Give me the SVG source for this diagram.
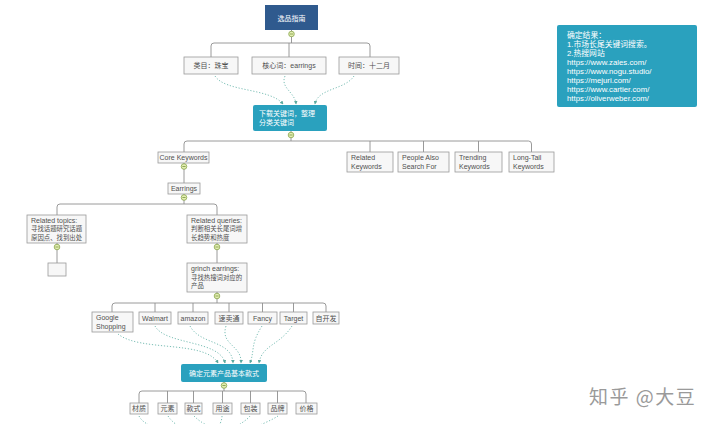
<svg xmlns="http://www.w3.org/2000/svg" xmlns:xlink="http://www.w3.org/1999/xlink" width="720" height="424" viewBox="0 0 720 424">
<style>
.bx{fill:#f7f7f7;stroke:#9a9a9a;stroke-width:0.8}
.t{font-family:"Liberation Sans","Noto Sans CJK SC",sans-serif;font-size:7px;fill:#505050}
.s{font-size:6.4px}
.tc{text-anchor:middle}
.w{fill:#ffffff}
.ib{font-size:7.8px}
.ln{fill:none;stroke:#8f8f8f;stroke-width:0.9}
.dt{fill:none;stroke:#6cb7ad;stroke-width:0.9;stroke-dasharray:1.2 1.8}
.dot circle{fill:#e4eeb2;stroke:#7d9c3c;stroke-width:0.7}
.dot path{stroke:#6a8a30;stroke-width:0.7}
</style>
<defs>
<g id="m" class="dot"><circle r="2.8"/><path d="M-1.6,0H1.6"/></g>
<marker id="ar" viewBox="0 0 6 6" refX="5" refY="3" markerWidth="4" markerHeight="4" orient="auto"><path d="M0,0L6,3L0,6z" fill="#5aa89e"/></marker>
</defs>
<rect width="720" height="424" fill="#ffffff"/>
<g id="connectors">
<path class="ln" d="M291.5,30V43M211,57V46Q211,43 214,43H367Q370,43 370,46V57M289,43V57"/>
<path class="ln" d="M291,131V141M184,152V144Q184,141 187,141H528.5Q531.5,141 531.5,144V152M370,141V152M423.5,141V152M478.5,141V152"/>
<path class="ln" d="M184,163V183M184,194V204M57,215V207Q57,204 60,204H214Q217,204 217,207V215"/>
<path class="ln" d="M57,243V263M217,243V263M217,292V303"/>
<path class="ln" d="M112,312V306Q112,303 115,303H323Q326,303 326,306V312M155,303V312M193,303V312M229,303V312M262.5,303V312M293.5,303V312"/>
<path class="ln" d="M224,382V391M139,403V394Q139,391 142,391H303Q306,391 306,394V403M167.5,391V403M193.5,391V403M222.5,391V403M250.5,391V403M277.5,391V403"/>
<path class="dt" marker-end="url(#ar)" d="M215,76C225,92 270,88 283,104"/>
<path class="dt" marker-end="url(#ar)" d="M285,76C280,88 295,92 296,104"/>
<path class="dt" marker-end="url(#ar)" d="M354,76C345,90 318,88 315,104"/>
<path class="dt" marker-end="url(#ar)" d="M118,334C140,352 205,340 218,363"/>
<path class="dt" marker-end="url(#ar)" d="M155,326C165,345 220,340 225,363"/>
<path class="dt" marker-end="url(#ar)" d="M190,326C200,345 232,340 233,363"/>
<path class="dt" marker-end="url(#ar)" d="M226,326C220,345 242,345 241,363"/>
<path class="dt" marker-end="url(#ar)" d="M262,326C250,345 255,350 250,363"/>
<path class="dt" marker-end="url(#ar)" d="M292,326C280,345 262,345 259,363"/>
<path class="dt" d="M139,416C142,422 148,424 150,426M168,416C172,422 176,424 178,426M194,416C200,422 205,424 208,426M222,416C222,420 220,424 219,426M250,416C247,420 240,424 237,426M278,416C272,420 262,424 258,426"/>
</g>
<g id="n-title"><rect x="265" y="5" width="53" height="25" fill="#2f5a8e"/><text class="t tc w" x="291.5" y="21" font-size="8.5">选品指南</text></g>
<g id="n-cat"><rect class="bx" x="184" y="57" width="54" height="17"/><text class="t tc" x="211" y="68">类目：珠宝</text></g>
<g id="n-core"><rect class="bx" x="252" y="57" width="74" height="17"/><text class="t tc" x="289" y="68">核心词：earrings</text></g>
<g id="n-time"><rect class="bx" x="339" y="57" width="60" height="17"/><text class="t tc" x="369" y="68">时间：十二月</text></g>
<g id="n-dl"><rect x="253" y="105" width="74" height="26" rx="2" fill="#2aa1be"/><text class="t w" x="259" y="116">下载关键词，整理</text><text class="t w" x="259" y="125">分类关键词</text></g>
<g id="n-ck"><rect class="bx" x="158" y="152" width="51" height="11"/><text class="t tc" x="183.5" y="160">Core Keywords</text></g>
<g id="n-rk"><rect class="bx" x="347" y="152" width="46" height="20"/><text class="t" x="351" y="160">Related</text><text class="t" x="351" y="168.5">Keywords</text></g>
<g id="n-pa"><rect class="bx" x="398" y="152" width="51" height="20"/><text class="t" x="402" y="160">People Also</text><text class="t" x="402" y="168.5">Search For</text></g>
<g id="n-tk"><rect class="bx" x="455" y="152" width="47" height="20"/><text class="t" x="459" y="160">Trending</text><text class="t" x="459" y="168.5">Keywords</text></g>
<g id="n-lt"><rect class="bx" x="509" y="152" width="45" height="20"/><text class="t" x="513" y="160">Long-Tail</text><text class="t" x="513" y="168.5">Keywords</text></g>
<g id="n-ear"><rect class="bx" x="168" y="183" width="32" height="11"/><text class="t tc" x="184" y="191">Earrings</text></g>
<g id="n-rt"><rect class="bx" x="27" y="215" width="59" height="28"/><text class="t" x="31" y="223">Related topics:</text><text class="t s" x="31" y="231">寻找话题研究话题</text><text class="t s" x="31" y="239.5">原因点、找到出处</text></g>
<g id="n-rq"><rect class="bx" x="187" y="215" width="60" height="28"/><text class="t" x="191" y="223">Related queries:</text><text class="t s" x="191" y="231">判断相关长尾词增</text><text class="t s" x="191" y="239.5">长趋势和热度</text></g>
<g id="n-empty"><rect class="bx" x="48" y="263" width="18" height="13"/></g>
<g id="n-gr"><rect class="bx" x="187" y="263" width="60" height="29"/><text class="t" x="191" y="271">grinch earrings:</text><text class="t s" x="191" y="279.5">寻找热搜词对应的</text><text class="t s" x="191" y="288">产品</text></g>
<g id="n-gs"><rect class="bx" x="92" y="312" width="41" height="20"/><text class="t" x="96" y="320">Google</text><text class="t" x="96" y="328.5">Shopping</text></g>
<g id="n-wm"><rect class="bx" x="139" y="312" width="32" height="12"/><text class="t tc" x="155" y="320.5">Walmart</text></g>
<g id="n-am"><rect class="bx" x="178" y="312" width="30" height="12"/><text class="t tc" x="193" y="320.5">amazon</text></g>
<g id="n-ae"><rect class="bx" x="215" y="312" width="28" height="12"/><text class="t tc" x="229" y="320.5">速卖通</text></g>
<g id="n-fa"><rect class="bx" x="248" y="312" width="29" height="12"/><text class="t tc" x="262.5" y="320.5">Fancy</text></g>
<g id="n-ta"><rect class="bx" x="280" y="312" width="27" height="12"/><text class="t tc" x="293.5" y="320.5">Target</text></g>
<g id="n-self"><rect class="bx" x="313" y="312" width="26" height="12"/><text class="t tc" x="326" y="320.5">自开发</text></g>
<g id="n-base"><rect x="181" y="364" width="86" height="18" rx="2" fill="#2aa1be"/><text class="t tc w" x="224" y="375.5">确定元素产品基本款式</text></g>
<g id="n-b1"><rect class="bx" x="130" y="403" width="18" height="11"/><text class="t tc" x="139" y="411">材质</text></g>
<g id="n-b2"><rect class="bx" x="158" y="403" width="19" height="11"/><text class="t tc" x="167.5" y="411">元素</text></g>
<g id="n-b3"><rect class="bx" x="185" y="403" width="17" height="11"/><text class="t tc" x="193.5" y="411">款式</text></g>
<g id="n-b4"><rect class="bx" x="213" y="403" width="19" height="11"/><text class="t tc" x="222.5" y="411">用途</text></g>
<g id="n-b5"><rect class="bx" x="241" y="403" width="19" height="11"/><text class="t tc" x="250.5" y="411">包装</text></g>
<g id="n-b6"><rect class="bx" x="268" y="403" width="19" height="11"/><text class="t tc" x="277.5" y="411">品牌</text></g>
<g id="n-b7"><rect class="bx" x="296" y="403" width="21" height="11"/><text class="t tc" x="306.5" y="411">价格</text></g>
<g id="n-result"><rect x="557" y="25" width="140" height="82" rx="2" fill="#2aa1be"/>
<text class="t w ib" x="567" y="38">确定结果：</text>
<text class="t w ib" x="567" y="47"> 1.市场长尾关键词搜索。</text>
<text class="t w ib" x="567" y="56"> 2.热搜网站</text>
<text class="t w ib" x="567" y="65">https://www.zales.com/</text>
<text class="t w ib" x="567" y="74">https://www.nogu.studio/</text>
<text class="t w ib" x="567" y="83">https://mejuri.com/</text>
<text class="t w ib" x="567" y="92">https://www.cartier.com/</text>
<text class="t w ib" x="567" y="101">https://oliverweber.com/</text>
</g>
<g id="dots">
<use xlink:href="#m" x="291.5" y="34"/>
<use xlink:href="#m" x="291" y="135"/>
<use xlink:href="#m" x="184" y="166.5"/>
<use xlink:href="#m" x="184" y="197.5"/>
<use xlink:href="#m" x="57" y="247"/>
<use xlink:href="#m" x="217" y="247"/>
<use xlink:href="#m" x="217" y="296"/>
<use xlink:href="#m" x="224" y="385.5"/>
</g>
<text x="589" y="404" font-family="Noto Sans CJK SC,sans-serif" font-size="19" letter-spacing="1.5" fill="#9a9a9a">知乎 @大豆</text>
</svg>
